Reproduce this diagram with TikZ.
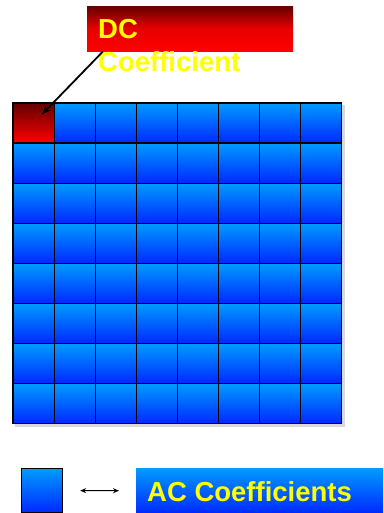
\documentclass[tikz,border=0pt]{standalone}
\usepackage{fontspec}
\setmainfont{Liberation Sans}
\usetikzlibrary{arrows.meta}
\definecolor{btop}{RGB}{0,155,255}
\definecolor{bbot}{RGB}{0,40,255}
\definecolor{rtop}{RGB}{100,0,0}
\definecolor{rbot}{RGB}{255,0,0}
\definecolor{ylw}{RGB}{255,255,0}
\tikzset{
  bluecell/.style={draw=black, line width=1.2pt, inner sep=0pt, minimum width=41.1pt, minimum height=40.1pt, top color=btop, bottom color=bbot},
  redcell/.style={bluecell, top color=rtop, bottom color=rbot},
  lbl/.style={text=ylw, font=\bfseries\fontsize{27.5}{33}\selectfont, inner sep=0pt, align=left},
}
\begin{document}
\begin{tikzpicture}[x=1pt,y=-1pt]
\useasboundingbox (0,0) rectangle (383,513);
% grid shadow
\fill[black!15] (15,105) rectangle (345,427);
\foreach \i in {1,...,8}{
  \foreach \j in {1,...,8}{
    \node[bluecell] (c\i\j) at ({13+41.1*(\j-0.5)},{103+40.1*(\i-0.5)}) {};
  }
}
\node[redcell] (c11) at ({13+41.1*0.5},{103+40.1*0.5}) {};
% DC box
\node[inner sep=0pt, minimum width=206pt, minimum height=45pt, anchor=north west, top color=rtop, bottom color=rbot, middle color=rbot!85!rtop] (dc) at (87,6) {};
\node[lbl, anchor=north west] (dctext) at (98,19) {DC\\Coefficient};
\draw[line width=1.8pt, -{Stealth[length=9pt,width=7pt]}, shorten >=12pt] ([xshift=16pt]dc.south west) -- (c11.center);
% legend
\node[bluecell, minimum width=41pt, minimum height=44pt, anchor=north west] (sq) at (21,468) {};
\node[inner sep=0pt, minimum width=247pt, minimum height=45pt, anchor=north west, top color=btop, bottom color=bbot] (acbox) at (136,468) {};
\node[lbl, anchor=west] (actext) at (147,491.5) {AC Coefficients};
\draw[line width=1pt, {Stealth[length=6pt,width=5pt]}-{Stealth[length=6pt,width=5pt]}] ([xshift=17pt]sq.east) -- ([xshift=-17pt]acbox.west);
\end{tikzpicture}
\end{document}
